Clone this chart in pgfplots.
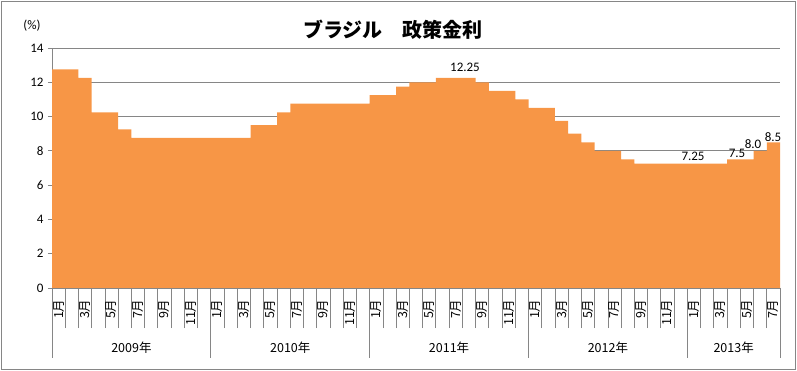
\documentclass[border=0pt]{standalone}
\usepackage{fontspec}
\usepackage{pgfplots}
\pgfplotsset{compat=1.18}
\setmainfont{Carlito}
\newfontfamily\cjk{Noto Sans CJK JP}
\definecolor{barorange}{RGB}{247,150,70}
\definecolor{gridgray}{RGB}{134,134,134}
\begin{document}
\begin{tikzpicture}
\useasboundingbox (0pt,0pt) rectangle (797pt,371pt);
\draw[gridgray, line width=0.8pt] (1.5pt,1.5pt) rectangle (795.5pt,369.5pt);
\node[font=\cjk\bfseries\fontsize{20}{20}\selectfont] at (393pt,341pt) {ブラジル　政策金利};
\node[font=\fontsize{13}{13}\selectfont] at (32pt,345pt) {(\%)};
\begin{axis}[
  at={(52pt,83pt)}, anchor=south west,
  scale only axis, width=728pt, height=240pt,
  xmin=0, xmax=55, ymin=0, ymax=14,
  axis lines*=left,
  axis line style={gridgray, line width=0.8pt},
  clip=false,
  ytick={0,2,...,14},
  ymajorgrids,
  major grid style={gridgray, line width=0.8pt},
  tick align=outside,
  major tick length=4pt,
  minor tick length=40pt,
  every tick/.style={gridgray, line width=0.8pt},
  major x tick style={draw=none},
  yticklabel style={font=\fontsize{13}{13}\selectfont, xshift=-1pt},
  /pgf/number format/assume math mode=true,
  xtick={0.5,1.5,...,54.5},
  minor xtick={0,1,...,55},
  xticklabels={1月,,3月,,5月,,7月,,9月,,11月,,1月,,3月,,5月,,7月,,9月,,11月,,1月,,3月,,5月,,7月,,9月,,11月,,1月,,3月,,5月,,7月,,9月,,11月,,1月,,3月,,5月,,7月},
  xticklabel style={font=\cjk\fontsize{12.5}{12.5}\selectfont, rotate=90, anchor=east, xshift=-4pt},
]
\addplot[const plot mark left, fill=barorange, draw=none] coordinates {
(0,12.75) (1,12.75) (2,12.25) (3,10.25) (4,10.25) (5,9.25) (6,8.75) (7,8.75) (8,8.75) (9,8.75) (10,8.75) (11,8.75)
(12,8.75) (13,8.75) (14,8.75) (15,9.5) (16,9.5) (17,10.25) (18,10.75) (19,10.75) (20,10.75) (21,10.75) (22,10.75) (23,10.75)
(24,11.25) (25,11.25) (26,11.75) (27,12.0) (28,12.0) (29,12.25) (30,12.25) (31,12.25) (32,12.0) (33,11.5) (34,11.5) (35,11.0)
(36,10.5) (37,10.5) (38,9.75) (39,9.0) (40,8.5) (41,8.0) (42,8.0) (43,7.5) (44,7.25) (45,7.25) (46,7.25) (47,7.25)
(48,7.25) (49,7.25) (50,7.25) (51,7.5) (52,7.5) (53,8.0) (54,8.5) (55,8.5)
} \closedcycle;
\pgfplotsinvokeforeach{0,12,24,36,48,55}{
  \draw[gridgray, line width=0.8pt] (axis cs:#1,0) -- ++(0,-70pt);
}
\node[font=\cjk\fontsize{12.5}{12.5}\selectfont] at (axis cs:6,0) [yshift=-60pt] {2009年};
\node[font=\cjk\fontsize{12.5}{12.5}\selectfont] at (axis cs:18,0) [yshift=-60pt] {2010年};
\node[font=\cjk\fontsize{12.5}{12.5}\selectfont] at (axis cs:30,0) [yshift=-60pt] {2011年};
\node[font=\cjk\fontsize{12.5}{12.5}\selectfont] at (axis cs:42,0) [yshift=-60pt] {2012年};
\node[font=\cjk\fontsize{12.5}{12.5}\selectfont] at (axis cs:51.5,0) [yshift=-60pt] {2013年};
\node[font=\fontsize{13}{13}\selectfont] at (axis cs:31.2,12.89) {12.25};
\node[font=\fontsize{13}{13}\selectfont] at (axis cs:48.43,7.70) {7.25};
\node[font=\fontsize{13}{13}\selectfont] at (axis cs:51.75,7.88) {7.5};
\node[font=\fontsize{13}{13}\selectfont] at (axis cs:52.96,8.40) {8.0};
\node[font=\fontsize{13}{13}\selectfont] at (axis cs:54.47,8.81) {8.5};
\end{axis}
\end{tikzpicture}
\end{document}
